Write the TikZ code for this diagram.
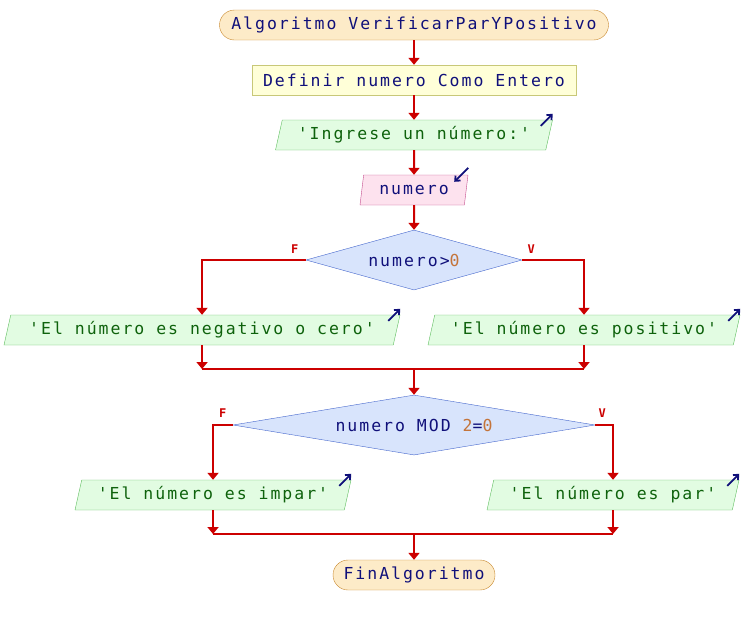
\documentclass[tikz,border=0pt]{standalone}
\usepackage{fontspec}
\setmonofont{DejaVu Sans Mono}[LetterSpace=12]
\usepackage{tikz}
\usetikzlibrary{shapes.geometric, arrows.meta, calc}
\definecolor{flujo}{HTML}{CC0000}
\definecolor{azul}{HTML}{10107A}
\definecolor{verde}{HTML}{0E620C}
\definecolor{numcol}{HTML}{C4743A}
\definecolor{termfondo}{HTML}{FDEBC8}
\definecolor{termborde}{HTML}{C8882E}
\definecolor{deffondo}{HTML}{FFFFD8}
\definecolor{defborde}{HTML}{C8C878}
\definecolor{salfondo}{HTML}{E2FCE2}
\definecolor{salborde}{HTML}{5CBC5C}
\definecolor{entfondo}{HTML}{FDE2EE}
\definecolor{entborde}{HTML}{C44C8C}
\definecolor{decfondo}{HTML}{D8E4FC}
\definecolor{decborde}{HTML}{4466CC}

\begin{document}
\begin{tikzpicture}[x=1pt, y=-1pt,
	every node/.style={font=\ttfamily\fontsize{16.5}{16.5}\selectfont, inner sep=0pt},
	term/.style={draw=termborde, fill=termfondo, rounded corners=15pt, minimum height=30pt, text=azul},
	defbox/.style={draw=defborde, fill=deffondo, minimum height=30pt, text=azul},
	salida/.style={trapezium, trapezium left angle=68, trapezium right angle=112, trapezium stretches body, draw=salborde, fill=salfondo, minimum height=30pt, text=verde},
	entrada/.style={trapezium, trapezium left angle=69, trapezium right angle=111, trapezium stretches body, draw=entborde, fill=entfondo, minimum height=30pt, text=azul},
	decision/.style={diamond, draw=decborde, fill=decfondo, minimum height=60pt, text=azul},
	flecha/.style={draw=flujo, line width=2pt, -{Triangle[length=7pt, width=11pt]}},
	linea/.style={draw=flujo, line width=2pt},
	icono/.style={draw=azul, line width=1.8pt, -{Straight Barb[length=4pt, width=7pt]}},
	etiq/.style={text=flujo, font=\ttfamily\bfseries\fontsize{12}{12}\selectfont}]
	\useasboundingbox (0,0) rectangle (744,625);
	\node[term, minimum width=389pt] (0) at (414,25) {Algoritmo VerificarParYPositivo};
	\node[defbox, minimum width=324pt] (1) at (414,80) {Definir numero Como Entero};
	\node[salida, minimum width=277pt] (2) at (414,135) {'Ingrese un número:'};
	\node[entrada, minimum width=108pt] (3) at (414,190) {numero};
	\node[decision, shape aspect=3.6, minimum width=216pt] (4) at (414,260) {numero>\textcolor{numcol}{0}};
	\node[salida, minimum width=396pt] (5) at (202,330) {'El número es negativo o cero'};
	\node[salida, minimum width=312pt] (6) at (584,330) {'El número es positivo'};
	\node[decision, shape aspect=6, minimum width=362pt] (7) at (414,425) {numero MOD \textcolor{numcol}{2}=\textcolor{numcol}{0}};
	\node[salida, minimum width=276pt] (8) at (213,495) {'El número es impar'};
	\node[salida, minimum width=252pt] (9) at (613,495) {'El número es par'};
	\node[term, minimum width=162pt] (10) at (414,575) {FinAlgoritmo};
	\node[etiq] (11) at ($(4.west)+(-11,-11)$) {F};
	\node[etiq] (12) at ($(4.east)+(9,-11)$) {V};
	\node[etiq] (13) at ($(7.west)+(-10,-12)$) {F};
	\node[etiq] (14) at ($(7.east)+(7,-12)$) {V};
	\coordinate (15) at (414,369);
	\coordinate (16) at (414,534);
	\draw[flecha] (0) -- (1);
	\draw[flecha] (1) -- (2);
	\draw[flecha] (2) -- (3);
	\draw[flecha] (3) -- (4);
	\draw[flecha] (4.west) -| (5.north);
	\draw[flecha] (4.east) -| (6.north);
	\draw[flecha] (5.south) -- (5.south |- 15);
	\draw[flecha] (6.south) -- (6.south |- 15);
	\draw[linea] (5.south |- 15) -- (6.south |- 15);
	\draw[flecha] (15) -- (7);
	\draw[flecha] (7.west) -| (8.north);
	\draw[flecha] (7.east) -| (9.north);
	\draw[flecha] (8.south) -- (8.south |- 16);
	\draw[flecha] (9.south) -- (9.south |- 16);
	\draw[linea] (8.south |- 16) -- (9.south |- 16);
	\draw[flecha] (16) -- (10);
	\draw[icono] ($(2.top right corner)+(-12,6)$) -- ++(12,-12);
	\draw[icono] ($(3.top right corner)+(0,-7)$) -- ++(-14,14);
	\draw[icono] ($(5.top right corner)+(-12,6)$) -- ++(12,-12);
	\draw[icono] ($(6.top right corner)+(-12,6)$) -- ++(12,-12);
	\draw[icono] ($(8.top right corner)+(-12,6)$) -- ++(12,-12);
	\draw[icono] ($(9.top right corner)+(-12,6)$) -- ++(12,-12);
\end{tikzpicture}
\end{document}
